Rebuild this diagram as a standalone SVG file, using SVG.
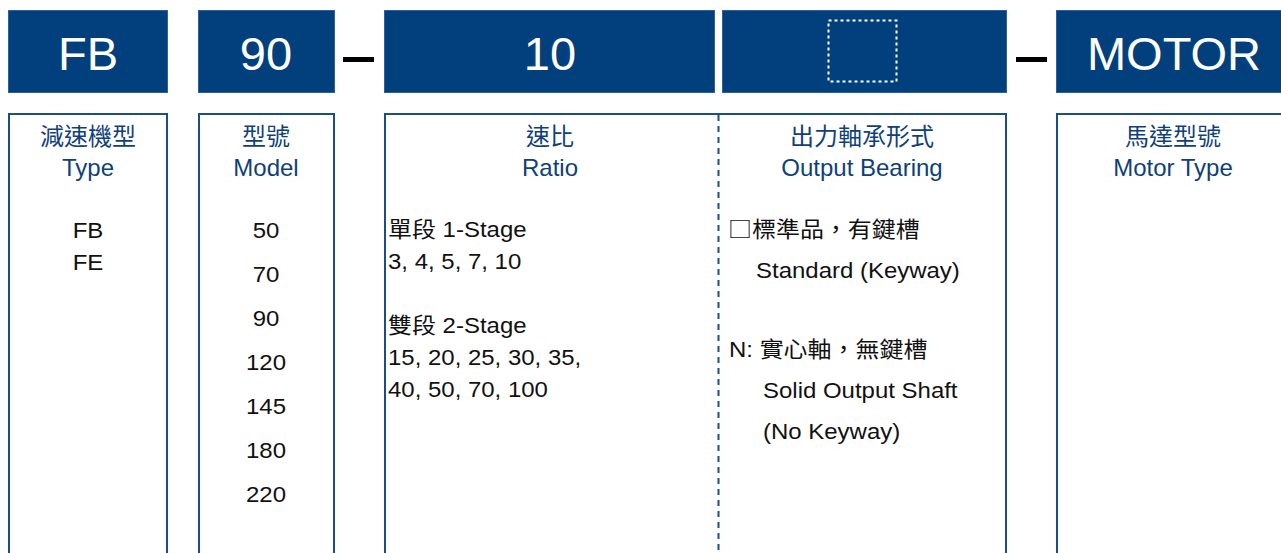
<svg xmlns="http://www.w3.org/2000/svg" width="1281" height="553" viewBox="0 0 1281 553">
<style>
text{font-family:"Liberation Sans","Noto Sans CJK TC",sans-serif}
.bar{fill:#023f7d;stroke:#2f609a;stroke-width:1}
.bt{fill:#fff;font-size:47px;text-anchor:middle}
.box{fill:#fff;stroke:#1a4d8a;stroke-width:2}
.h{fill:#0f3f7c;font-size:24px;text-anchor:middle}
.b{fill:#111;font-size:22px}
.c{text-anchor:middle}
.cjk{font-family:"Noto Sans CJK TC",sans-serif}
.dash{fill:#000}
</style>
<rect width="1281" height="553" fill="#fff"/>
<g id="bar-type"><rect class="bar" x="8.5" y="10.5" width="159" height="82"/><text class="bt" x="88" y="70">FB</text></g>
<g id="bar-model"><rect class="bar" x="198.5" y="10.5" width="136" height="82"/><text class="bt" x="266" y="70">90</text></g>
<g id="bar-ratio"><rect class="bar" x="384.5" y="10.5" width="330" height="82"/><text class="bt" x="550" y="70">10</text></g>
<g id="bar-bearing"><rect class="bar" x="722.5" y="10.5" width="284" height="82"/><rect x="828.5" y="20.5" width="68" height="61" fill="none" stroke="#fff" stroke-width="2" stroke-dasharray="3 3"/></g>
<g id="bar-motor"><rect class="bar" x="1056.5" y="10.5" width="240" height="82"/><text class="bt" x="1174" y="70">MOTOR</text></g>
<g id="separators"><rect class="dash" x="343" y="57" width="31" height="5"/><rect class="dash" x="1016" y="57" width="31" height="5"/></g>

<g id="col-type">
<rect class="box" x="9" y="114" width="158" height="460"/>
<text class="h" x="88" y="145">減速機型</text>
<text class="h" x="88" y="176">Type</text>
<text class="b c" transform="translate(88,238) scale(1.09,1)">FB</text>
<text class="b c" transform="translate(88,270) scale(1.09,1)">FE</text>
</g>
<g id="col-model">
<rect class="box" x="199" y="114" width="135" height="460"/>
<text class="h" x="266" y="145">型號</text>
<text class="h" x="266" y="176">Model</text>
<text class="b c" transform="translate(266,238) scale(1.09,1)">50</text>
<text class="b c" transform="translate(266,282) scale(1.09,1)">70</text>
<text class="b c" transform="translate(266,326) scale(1.09,1)">90</text>
<text class="b c" transform="translate(266,370) scale(1.09,1)">120</text>
<text class="b c" transform="translate(266,414) scale(1.09,1)">145</text>
<text class="b c" transform="translate(266,458) scale(1.09,1)">180</text>
<text class="b c" transform="translate(266,502) scale(1.09,1)">220</text>
</g>
<g id="col-ratio-bearing">
<rect class="box" x="385" y="114" width="621" height="460"/>
<line x1="718.5" y1="115" x2="718.5" y2="553" stroke="#1a4d8a" stroke-width="2" stroke-dasharray="6 5"/>
</g>
<g id="col-ratio">
<text class="h" x="550" y="145">速比</text>
<text class="h" x="550" y="176">Ratio</text>
<text class="b" transform="translate(388,237) scale(1.09,1)">單段 1-Stage</text>
<text class="b" transform="translate(388,269) scale(1.09,1)">3, 4, 5, 7, 10</text>
<text class="b" transform="translate(388,333) scale(1.09,1)">雙段 2-Stage</text>
<text class="b" transform="translate(388,365) scale(1.09,1)">15, 20, 25, 30, 35,</text>
<text class="b" transform="translate(388,397) scale(1.09,1)">40, 50, 70, 100</text>
</g>
<g id="col-bearing">
<text class="h" x="862" y="145">出力軸承形式</text>
<text class="h" x="862" y="176">Output Bearing</text>
<text class="b" transform="translate(728,237) scale(1.09,1)"><tspan class="cjk">□</tspan>標準品，有鍵槽</text>
<text class="b" transform="translate(756,278) scale(1.09,1)">Standard (Keyway)</text>
<text class="b" transform="translate(729,357) scale(1.09,1)">N: 實心軸，無鍵槽</text>
<text class="b" transform="translate(763,398) scale(1.09,1)">Solid Output Shaft</text>
<text class="b" transform="translate(763,439) scale(1.09,1)">(No Keyway)</text>
</g>
<g id="col-motor">
<rect class="box" x="1057" y="114" width="240" height="460"/>
<text class="h" x="1173" y="145">馬達型號</text>
<text class="h" x="1173" y="176">Motor Type</text>
</g>
</svg>
